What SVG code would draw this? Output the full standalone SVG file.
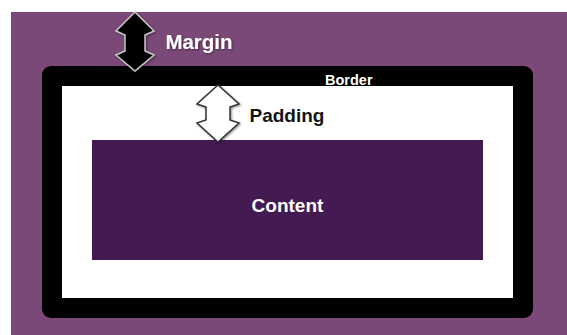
<svg xmlns="http://www.w3.org/2000/svg" width="567" height="335" viewBox="0 0 567 335">
  <style>
    .lbl { font-family: "Liberation Sans", Arial, sans-serif; font-weight: bold; }
    .light { fill: #ffffff; }
    .dark { fill: #141414; }
    .shadow { filter: url(#sh); }
  </style>
  <defs>
    <filter id="sh" x="-20%" y="-20%" width="140%" height="140%">
      <feDropShadow dx="1" dy="1" stdDeviation="0.8" flood-color="#000" flood-opacity="0.45"/>
    </filter>
  </defs>
  <rect x="0" y="0" width="567" height="335" fill="#ffffff"/>
  <g id="margin">
    <rect x="11" y="12" width="556" height="323" fill="#7a4977"/>
  </g>
  <g id="border">
    <rect x="42" y="66" width="491" height="252" rx="9" ry="9" fill="#000000"/>
    <text class="lbl light" x="325" y="85" font-size="14.5">Border</text>
  </g>
  <g id="padding">
    <rect x="62" y="86" width="451" height="212" fill="#ffffff"/>
  </g>
  <g id="content">
    <rect x="92" y="140" width="391" height="120" fill="#431a52"/>
    <text class="lbl light" x="287.5" y="212" font-size="19" text-anchor="middle">Content</text>
  </g>
  <g id="connectors">
    <path class="shadow" d="M135,12 L154,31 L145,35 L145,51 L154,55 L135,71 L116,55 L125,51 L125,35 L116,31 Z" fill="#000000" stroke="#c8c8c8" stroke-width="1.5" stroke-linejoin="miter"/>
    <path class="shadow" d="M218,85 L239,104 L230,107 L230,120 L239,123 L218,142 L197,123 L206,120 L206,107 L197,104 Z" fill="#ffffff" stroke="#333333" stroke-width="1.5" stroke-linejoin="miter"/>
  </g>
  <g id="labels">
    <text class="lbl light" x="199" y="49" font-size="20.5" text-anchor="middle" filter="url(#sh)">Margin</text>
    <text class="lbl dark" x="287" y="122" font-size="19" text-anchor="middle">Padding</text>
  </g>
</svg>
